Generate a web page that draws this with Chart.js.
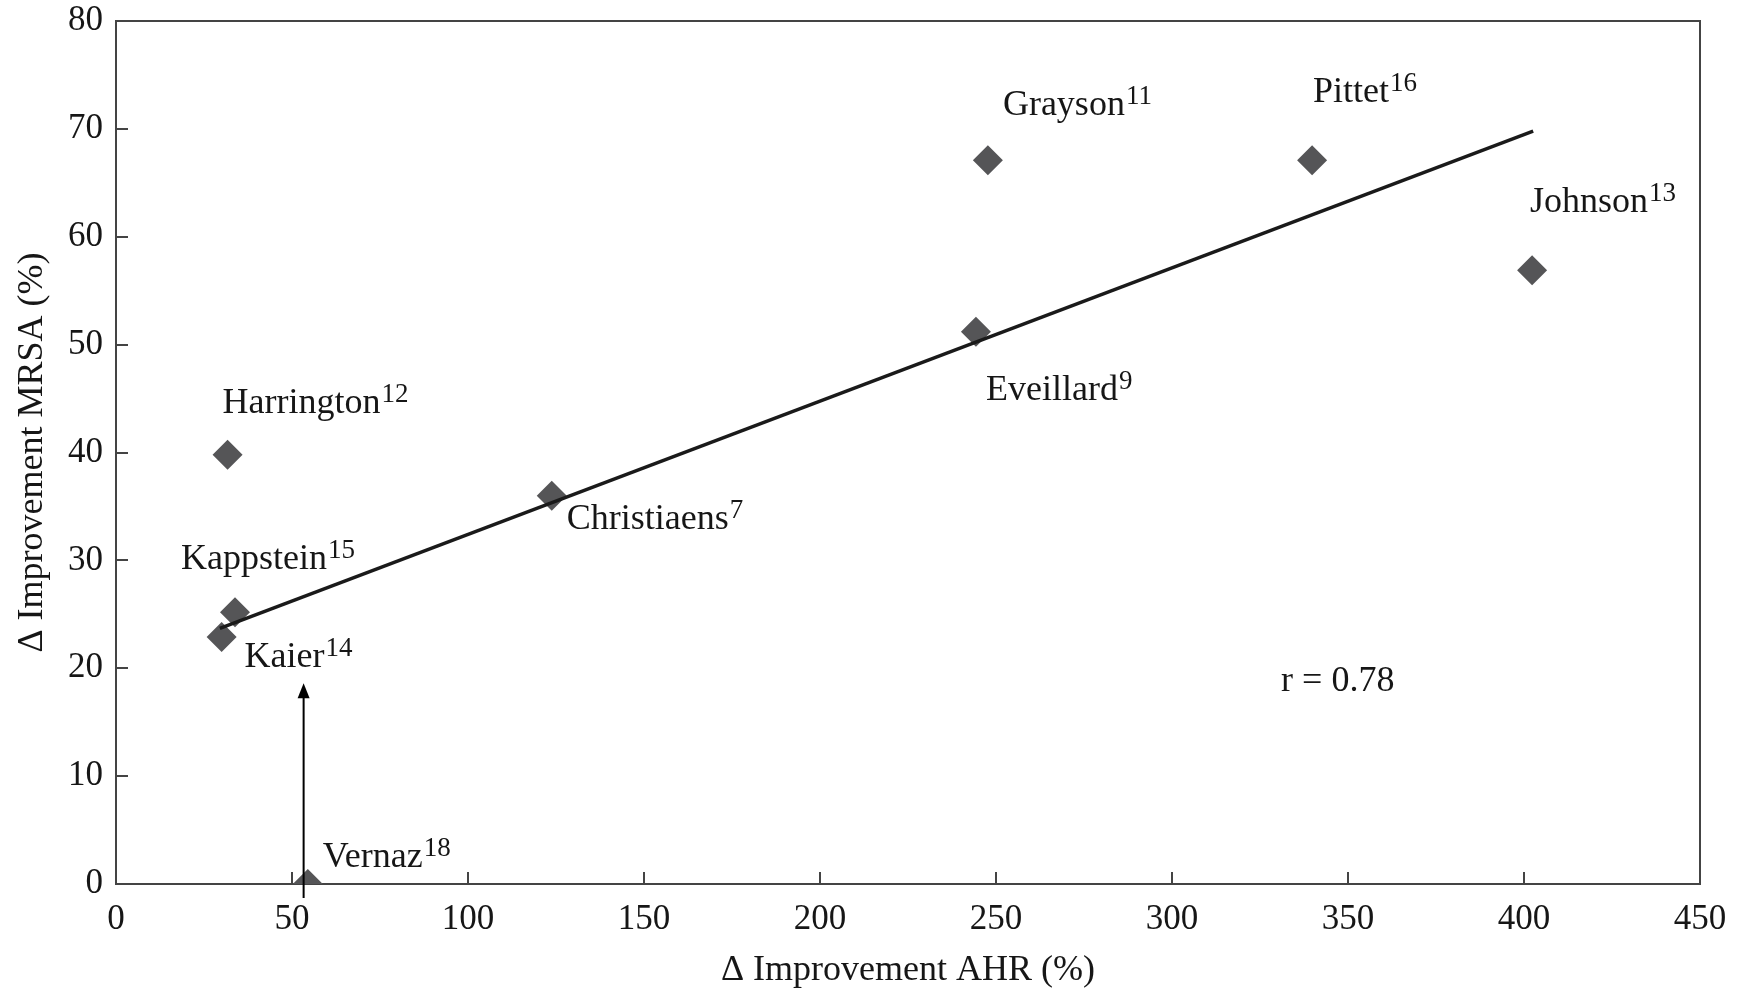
<!DOCTYPE html>
<html>
<head>
<meta charset="utf-8">
<title>AHR vs MRSA improvement</title>
<script src="https://cdn.jsdelivr.net/npm/chart.js@4.4.1/dist/chart.umd.min.js"></script>
<style>
    html, body { margin: 0; padding: 0; background: #fff; }
    .chart-wrap { width: 1742px; height: 989px; position: relative; }
</style>
</head>
<body>
<div class="chart-wrap"><canvas id="mainChart"></canvas></div>
<script>
// --- DATA ---
const studies = ['Vernaz', 'Kaier', 'Kappstein', 'Harrington', 'Christiaens', 'Eveillard', 'Grayson', 'Pittet', 'Johnson'];
const refs = ['18', '14', '15', '12', '7', '9', '11', '16', '13'];
const ahrImprovement = [54.5, 30.0, 33.8, 31.7, 123.8, 244.3, 247.7, 339.8, 402.3];
const mrsaImprovement = [0, 22.9, 25.2, 39.8, 36.0, 51.2, 67.1, 67.1, 56.9];
const fitX = [29.5, 402.6];
const fitY = [23.7, 69.8];
const arrowX = [53.3, 53.3];
const arrowY = [-1.3, 18.6];
const xTicks = [0, 50, 100, 150, 200, 250, 300, 350, 400, 450];
const yTicks = [0, 10, 20, 30, 40, 50, 60, 70, 80];
const rText = 'r = 0.78';
const rPos = [331, 17.9];

// label offsets from each point, in pixels (left edge, baseline)
const labelOffsets = [[15, -17], [23, 30], [-54, -43], [-5, -42], [15, 33], [10, 68], [15, -45], [1, -58], [-2, -58]];

const FONT = '"Liberation Serif", "DejaVu Serif", serif';
const INK = '#161616';

const framePlugin = {
    id: 'frame',
    beforeDatasetsDraw(chart) {
        const { ctx, chartArea: a, scales: { x, y } } = chart;
        ctx.save();
        ctx.strokeStyle = '#444';
        ctx.lineWidth = 2;
        ctx.strokeRect(a.left, a.top, a.right - a.left, a.bottom - a.top);
        // inward tick marks
        ctx.beginPath();
        xTicks.forEach(v => {
            const px = Math.round(x.getPixelForValue(v));
            ctx.moveTo(px, a.bottom);
            ctx.lineTo(px, a.bottom - 12);
        });
        yTicks.forEach(v => {
            const py = Math.round(y.getPixelForValue(v));
            ctx.moveTo(a.left, py);
            ctx.lineTo(a.left + 12, py);
        });
        ctx.stroke();
        ctx.restore();
    },
    afterDatasetsDraw(chart) {
        const { ctx, scales: { x, y } } = chart;
        ctx.save();
        // arrow
        const ax = x.getPixelForValue(arrowX[0]);
        const y0 = y.getPixelForValue(arrowY[0]);
        const y1 = y.getPixelForValue(arrowY[1]);
        ctx.strokeStyle = '#000';
        ctx.fillStyle = '#000';
        ctx.lineWidth = 2;
        ctx.beginPath();
        ctx.moveTo(ax, y0);
        ctx.lineTo(ax, y1 + 10);
        ctx.stroke();
        ctx.beginPath();
        ctx.moveTo(ax, y1);
        ctx.lineTo(ax - 6, y1 + 15);
        ctx.lineTo(ax + 6, y1 + 15);
        ctx.closePath();
        ctx.fill();

        // study labels with superscript reference numbers
        ctx.fillStyle = INK;
        ctx.textBaseline = 'alphabetic';
        ctx.textAlign = 'left';
        studies.forEach((name, i) => {
            const px = x.getPixelForValue(ahrImprovement[i]) + labelOffsets[i][0];
            const py = y.getPixelForValue(mrsaImprovement[i]) + labelOffsets[i][1];
            ctx.font = '36px ' + FONT;
            ctx.fillText(name, px, py);
            const w = ctx.measureText(name).width;
            ctx.font = '27px ' + FONT;
            ctx.fillText(refs[i], px + w + 1, py - 11);
        });
        ctx.font = '36px ' + FONT;
        ctx.fillText(rText, x.getPixelForValue(rPos[0]), y.getPixelForValue(rPos[1]));
        ctx.restore();
    }
};

document.addEventListener('DOMContentLoaded', () => {
    const ctx = document.getElementById('mainChart');
    new Chart(ctx, {
        type: 'scatter',
        data: {
            datasets: [{
                label: 'Studies',
                data: ahrImprovement.map((v, i) => ({ x: v, y: mrsaImprovement[i] })),
                backgroundColor: '#555557',
                borderWidth: 0,
                pointStyle: 'rectRot',
                pointRadius: 15,
                order: 2
            }, {
                label: 'Fit',
                type: 'line',
                data: fitX.map((v, i) => ({ x: v, y: fitY[i] })),
                borderColor: '#1a1a1a',
                borderWidth: 3.5,
                pointRadius: 0,
                fill: false,
                order: 1
            }]
        },
        options: {
            responsive: true,
            maintainAspectRatio: false,
            animation: false,
            layout: { padding: { top: 21, right: 42, left: 0, bottom: 0 } },
            plugins: { legend: { display: false }, tooltip: { enabled: false } },
            scales: {
                x: {
                    type: 'linear',
                    min: 0, max: 450,
                    afterFit: s => { s.height = 105; s.paddingLeft = 0; s.paddingRight = 0; },
                    afterBuildTicks: s => { s.ticks = xTicks.map(v => ({ value: v })); },
                    grid: { drawOnChartArea: false, drawTicks: false },
                    border: { display: false },
                    ticks: { color: INK, font: { family: FONT, size: 35 }, padding: 15, maxRotation: 0 },
                    title: {
                        display: true,
                        text: 'Δ Improvement AHR (%)',
                        color: INK,
                        font: { family: FONT, size: 36, lineHeight: 1 },
                        padding: { top: 0, bottom: 0 }
                    }
                },
                y: {
                    type: 'linear',
                    min: 0, max: 80,
                    afterFit: s => { s.width = 116; s.paddingTop = 0; s.paddingBottom = 0; },
                    afterBuildTicks: s => { s.ticks = yTicks.map(v => ({ value: v })); },
                    grid: { drawOnChartArea: false, drawTicks: false },
                    border: { display: false },
                    ticks: { color: INK, font: { family: FONT, size: 35 }, padding: 13 },
                    title: {
                        display: true,
                        text: 'Δ Improvement MRSA (%)',
                        color: INK,
                        font: { family: FONT, size: 36, lineHeight: 1 },
                        padding: { top: 15, bottom: 0 }
                    }
                }
            }
        },
        plugins: [framePlugin]
    });
});
</script>
</body>
</html>
